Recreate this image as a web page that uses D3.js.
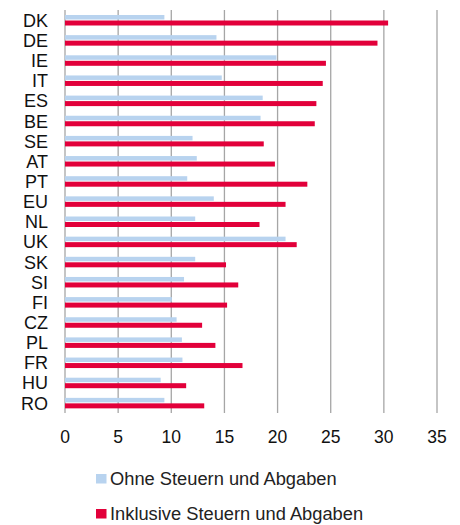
<!DOCTYPE html>
<html>
<head>
<meta charset="utf-8">
<script src="https://d3js.org/d3.v7.min.js"></script>
<style>
body { margin: 0; background: #fff; }
text { font-family: "Liberation Sans", Arial, sans-serif; }
</style>
</head>
<body>
<script>
var countries = ["DK","DE","IE","IT","ES","BE","SE","AT","PT","EU","NL","UK","SK","SI","FI","CZ","PL","FR","HU","RO"];
var ohne = [9.35,14.25,19.9,14.75,18.6,18.4,12.0,12.4,11.5,14.0,12.25,20.75,12.25,11.2,10.05,10.5,11.0,11.05,9.0,9.35];
var inklusive = [30.4,29.4,24.55,24.25,23.65,23.5,18.7,19.75,22.8,20.75,18.3,21.8,15.15,16.3,15.25,12.9,14.15,16.7,11.4,13.1];
var ticks = [0,5,10,15,20,25,30,35];
var seriesNames = ["Ohne Steuern und Abgaben","Inklusive Steuern und Abgaben"];
var colors = ["#b8d3ef","#e2003a"];

var width = 460, height = 525;

var svg = d3.select("body")
    .append("svg")
    .attr("width", width)
    .attr("height", height);

var x = d3.scaleLinear()
    .domain([0, 35])
    .range([65, 437]);

var y = d3.scaleBand()
    .domain(countries)
    .range([10, 413]);

// gridlines
svg.selectAll(".grid")
    .data(ticks)
    .enter()
    .append("line")
    .attr("x1", function(d) { return x(d); })
    .attr("x2", function(d) { return x(d); })
    .attr("y1", 10)
    .attr("y2", 413)
    .attr("stroke", "#a6a6a6")
    .attr("stroke-width", 1.3);

var rows = svg.selectAll(".row")
    .data(countries)
    .enter()
    .append("g")
    .attr("transform", function(d) { return "translate(0," + y(d) + ")"; });

rows.append("rect")
    .attr("x", x(0))
    .attr("y", 5)
    .attr("height", 4.5)
    .attr("width", function(d, i) { return x(ohne[i]) - x(0); })
    .attr("fill", colors[0]);

rows.append("rect")
    .attr("x", x(0))
    .attr("y", 10.5)
    .attr("height", 5)
    .attr("width", function(d, i) { return x(inklusive[i]) - x(0); })
    .attr("fill", colors[1]);

rows.append("text")
    .attr("x", 48)
    .attr("y", 16.8)
    .attr("text-anchor", "end")
    .attr("font-size", 18)
    .attr("fill", "#111")
    .text(function(d) { return d; });

svg.selectAll(".tick")
    .data(ticks)
    .enter()
    .append("text")
    .attr("x", function(d) { return x(d); })
    .attr("y", 442.7)
    .attr("text-anchor", "middle")
    .attr("font-size", 17.5)
    .attr("fill", "#111")
    .text(function(d) { return d; });

var legend = svg.selectAll(".legend")
    .data(seriesNames)
    .enter()
    .append("g")
    .attr("transform", function(d, i) { return "translate(96," + (474 + i * 35) + ")"; });

legend.append("rect")
    .attr("width", 10.5)
    .attr("height", 9.5)
    .attr("fill", function(d, i) { return colors[i]; });

legend.append("text")
    .attr("x", 14)
    .attr("y", 11)
    .attr("font-size", 18.3)
    .attr("fill", "#222")
    .text(function(d) { return d; });
</script>
</body>
</html>
